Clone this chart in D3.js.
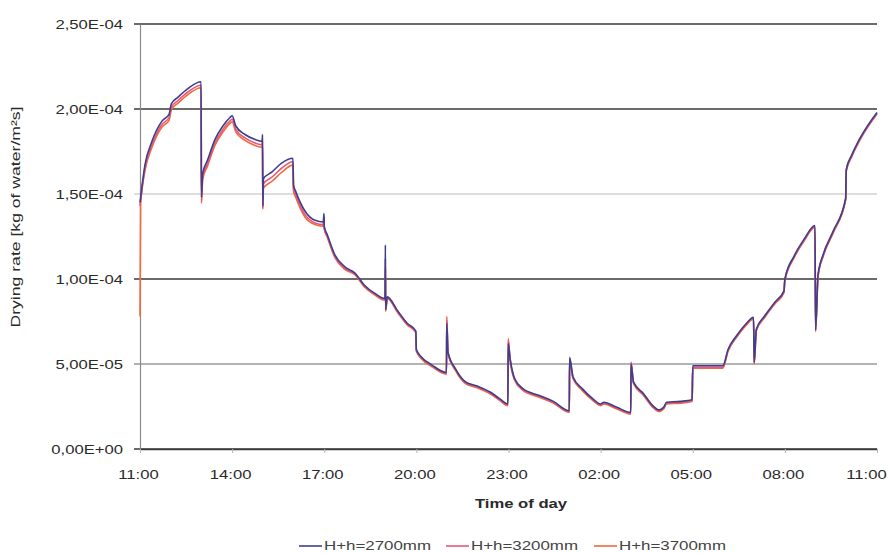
<!DOCTYPE html>
<html>
<head>
<meta charset="utf-8">
<script src="https://cdn.jsdelivr.net/npm/d3@7"></script>
<style>
  html, body { margin: 0; padding: 0; background: #fff; }
  svg { display: block; font-family: "Liberation Sans", Arial, sans-serif; }
</style>
</head>
<body>
<svg id="chart" width="893" height="553"></svg>
<script>
// Hours elapsed since 11:00 (0 = 11:00, 24 = 11:00 next day)
const hours = [
  0.00, 0.02, 0.16, 0.39, 0.72, 0.95, 1.02, 1.24, 1.56, 1.99,
  2.00, 2.04, 2.20, 2.44, 2.70, 2.93, 3.00, 3.12, 3.42, 3.75,
  3.98, 3.99, 4.00, 4.02, 4.30, 4.60, 4.98, 5.00, 5.06, 5.37,
  5.70, 5.97, 5.99, 6.00, 6.10, 6.35, 6.68, 7.00, 7.30, 7.65,
  7.98, 7.99, 8.00, 8.05, 8.40, 8.70, 8.98, 9.00, 9.17, 9.50,
  9.98, 9.99, 10.03, 10.28, 10.60, 10.98, 11.40, 11.72, 11.98, 11.99,
  12.05, 12.20, 12.47, 13.00, 13.46, 13.98, 13.99, 14.10, 14.40, 14.75,
  15.00, 15.10, 15.53, 15.98, 15.99, 16.07, 16.40, 16.70, 16.90, 17.05,
  17.15, 17.60, 17.98, 18.00, 18.98, 19.15, 19.42, 19.75, 19.98, 20.00,
  20.07, 20.35, 20.68, 20.97, 21.00, 21.30, 21.63, 21.98, 22.00, 22.08,
  22.25, 22.57, 22.98, 23.00, 23.18, 23.50, 24.00
];

// Drying rate, in units of 1e-5 kg of water/m²s
const rate2700 = [
  14.5, 14.8, 16.7, 18.1, 19.3, 19.7, 20.3, 20.7, 21.2, 21.6,
  14.8, 16.2, 17.0, 18.2, 19.0, 19.5, 19.6, 19.0, 18.5, 18.2,
  18.1, 18.5, 14.3, 15.9, 16.3, 16.8, 17.1, 15.5, 15.2, 14.0,
  13.45, 13.35, 13.85, 13.1, 12.6, 11.4, 10.7, 10.35, 9.65, 9.15,
  8.85, 12.0, 8.2, 8.95, 8.1, 7.4, 6.95, 5.85, 5.4, 4.95,
  4.5, 7.4, 5.7, 4.7, 3.95, 3.7, 3.35, 2.95, 2.65, 6.2,
  5.35, 4.15, 3.55, 3.15, 2.8, 2.25, 5.4, 4.25, 3.55, 2.95,
  2.65, 2.75, 2.45, 2.15, 5.0, 3.95, 3.25, 2.55, 2.3, 2.45,
  2.75, 2.8, 2.9, 4.9, 4.9, 5.85, 6.65, 7.4, 7.75, 5.1,
  7.05, 7.85, 8.65, 9.3, 10.0, 11.35, 12.35, 13.15, 7.0, 10.25,
  11.45, 12.8, 14.75, 16.45, 17.3, 18.45, 19.8
];
const rate3200 = [
  14.3, 14.6, 16.5, 17.9, 19.1, 19.5, 20.1, 20.5, 21.0, 21.4,
  14.6, 16.0, 16.8, 18.0, 18.8, 19.3, 19.4, 18.8, 18.3, 18.0,
  17.9, 18.3, 14.2, 15.6, 16.0, 16.5, 16.9, 15.3, 15.0, 13.8,
  13.3, 13.2, 13.7, 13.0, 12.5, 11.3, 10.6, 10.3, 9.6, 9.1,
  8.8, 11.2, 8.2, 8.9, 8.05, 7.35, 6.9, 5.8, 5.35, 4.9,
  4.45, 7.6, 5.65, 4.65, 3.9, 3.65, 3.3, 2.9, 2.6, 6.4,
  5.3, 4.1, 3.5, 3.1, 2.75, 2.2, 5.3, 4.2, 3.5, 2.9,
  2.6, 2.7, 2.4, 2.1, 5.1, 3.9, 3.2, 2.5, 2.25, 2.4,
  2.7, 2.75, 2.85, 4.8, 4.8, 5.8, 6.6, 7.35, 7.7, 5.05,
  7.0, 7.8, 8.6, 9.25, 9.95, 11.3, 12.3, 13.1, 7.0, 10.2,
  11.4, 12.75, 14.7, 16.4, 17.25, 18.4, 19.75
];
const rate3700 = [
  7.8, 14.45, 16.35, 17.75, 18.95, 19.35, 19.95, 20.35, 20.85, 21.25,
  14.45, 15.85, 16.65, 17.85, 18.65, 19.15, 19.25, 18.65, 18.15, 17.85,
  17.75, 18.15, 14.1, 15.35, 15.75, 16.25, 16.7, 15.15, 14.85, 13.65,
  13.2, 13.1, 13.6, 12.95, 12.45, 11.25, 10.55, 10.25, 9.55, 9.05,
  8.75, 10.6, 8.1, 8.85, 8.0, 7.3, 6.85, 5.75, 5.3, 4.85,
  4.4, 7.8, 5.6, 4.6, 3.85, 3.6, 3.25, 2.85, 2.55, 6.5,
  5.25, 4.05, 3.45, 3.05, 2.7, 2.15, 5.2, 4.15, 3.45, 2.85,
  2.55, 2.65, 2.35, 2.05, 5.1, 3.85, 3.15, 2.45, 2.2, 2.35,
  2.65, 2.7, 2.8, 4.75, 4.75, 5.75, 6.55, 7.3, 7.65, 5.0,
  6.95, 7.75, 8.55, 9.2, 9.9, 11.25, 12.25, 13.05, 6.9, 10.15,
  11.35, 12.7, 14.65, 16.35, 17.2, 18.35, 19.7
];
const RATE_UNIT = 1e-5;

const seriesNames = ["H+h=2700mm", "H+h=3200mm", "H+h=3700mm"];
const seriesValues = [rate2700, rate3200, rate3700];

const xTickHours = [0, 3, 6, 9, 12, 15, 18, 21, 24];
const xTickLabels = ["11:00", "14:00", "17:00", "20:00", "23:00", "02:00", "05:00", "08:00", "11:00"];
const yTickValues = [0, 5e-5, 1e-4, 1.5e-4, 2e-4, 2.5e-4];
const yTickLabels = ["0,00E+00", "5,00E-05", "1,00E-04", "1,50E-04", "2,00E-04", "2,50E-04"];

// ---- styling ----
const seriesColors = ["#3d3f8e", "#e5587c", "#f2693a"];
const gridShades = ["#3a3a3a", "#9a9a9a", "#3a3a3a", "#d2d2d2", "#3a3a3a", "#3a3a3a"];
const plot = { left: 140, right: 877, top: 24, bottom: 449 };

const svg = d3.select("#chart");

const x = d3.scaleLinear().domain([0, 24]).range([plot.left, plot.right]);
const y = d3.scaleLinear().domain([0, 2.5e-4]).range([plot.bottom, plot.top]);

// horizontal gridlines
svg.append("g")
  .selectAll("line")
  .data(yTickValues)
  .join("line")
  .attr("x1", plot.left - 6)
  .attr("x2", plot.right)
  .attr("y1", d => y(d))
  .attr("y2", d => y(d))
  .attr("stroke", (d, i) => gridShades[i])
  .attr("stroke-width", 1.3);

// y axis
const yAxis = svg.append("g")
  .attr("transform", `translate(${plot.left},0)`)
  .call(d3.axisLeft(y).tickValues(yTickValues).tickFormat((d, i) => yTickLabels[i]).tickSize(0).tickSizeOuter(0));
yAxis.select(".domain").attr("stroke", "#8a8a8a").attr("stroke-width", 1.2);
yAxis.selectAll(".tick text")
  .attr("x", -17)
  .attr("fill", "#2a2a2a")
  .attr("font-size", 13)
  .attr("class", "stretch");

// x axis
const xAxis = svg.append("g")
  .attr("transform", `translate(0,${plot.bottom})`)
  .call(d3.axisBottom(x).tickValues(xTickHours).tickFormat((d, i) => xTickLabels[i]).tickSize(4).tickSizeOuter(0));
xAxis.select(".domain").attr("stroke", "#3a3a3a").attr("stroke-width", 1.3);
xAxis.selectAll(".tick line").attr("stroke", "#b5b5b5");
xAxis.selectAll(".tick text")
  .attr("x", (d, i) => (i === xTickHours.length - 1 ? -11 : -2))
  .attr("y", 25)
  .attr("dy", "0.35em")
  .attr("fill", "#2a2a2a")
  .attr("font-size", 13)
  .attr("class", "stretch");

// series lines (3700 underneath, 2700 on top)
const line = d3.line()
  .x(d => x(d[0]))
  .y(d => y(d[1] * RATE_UNIT))
  .curve(d3.curveMonotoneX);

const order = [2, 1, 0];
svg.append("g")
  .selectAll("path")
  .data(order)
  .join("path")
  .attr("fill", "none")
  .attr("stroke", i => seriesColors[i])
  .attr("stroke-width", 1.6)
  .attr("stroke-linejoin", "round")
  .attr("d", i => line(hours.map((h, k) => [h, seriesValues[i][k]])));

// axis titles
svg.append("text")
  .attr("transform", "translate(20,217) rotate(-90)")
  .attr("text-anchor", "middle")
  .attr("font-size", 13)
  .attr("fill", "#2a2a2a")
  .attr("textLength", 221)
  .attr("lengthAdjust", "spacingAndGlyphs")
  .text("Drying rate [kg of water/m²s]");

svg.append("text")
  .attr("x", 521)
  .attr("y", 508)
  .attr("text-anchor", "middle")
  .attr("font-size", 13)
  .attr("font-weight", "bold")
  .attr("fill", "#2a2a2a")
  .attr("class", "stretch")
  .text("Time of day");

// legend
const legendX = [299, 446, 594];
const legend = svg.append("g")
  .selectAll("g")
  .data(seriesNames)
  .join("g")
  .attr("transform", (d, i) => `translate(${legendX[i]},546)`);
legend.append("line")
  .attr("x1", 0).attr("x2", 23)
  .attr("stroke", (d, i) => seriesColors[i])
  .attr("stroke-width", 1.6);
legend.append("text")
  .attr("x", 25)
  .attr("dy", "0.36em")
  .attr("font-size", 12)
  .attr("fill", "#444")
  .attr("textLength", 107)
  .attr("lengthAdjust", "spacingAndGlyphs")
  .text(d => d);

// widen tick labels and title horizontally
svg.selectAll("text.stretch").each(function () {
  const w = this.getComputedTextLength();
  d3.select(this).attr("textLength", w * 1.28).attr("lengthAdjust", "spacingAndGlyphs");
});
</script>
</body>
</html>
